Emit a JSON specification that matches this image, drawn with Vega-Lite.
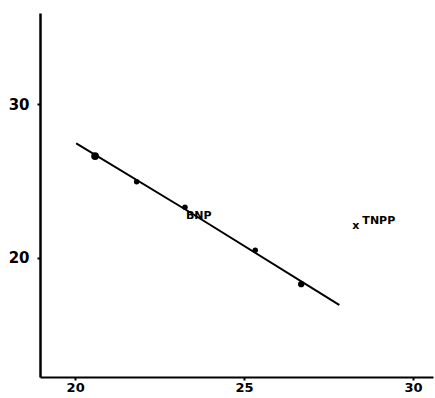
{
  "$schema": "https://vega.github.io/schema/vega-lite/v6.json",
  "autosize": "none",
  "width": 393,
  "height": 364,
  "padding": {"left": 40, "top": 13, "right": 2, "bottom": 21},
  "background": "white",
  "config": {"view": {"stroke": null}},
  "datasets": {
    "fit": [
      {"x": 20.03, "y": 27.45},
      {"x": 23.3, "y": 23.1},
      {"x": 27.82, "y": 16.95}
    ],
    "pts": [
      {"x": 20.59, "y": 26.62, "s": 60},
      {"x": 21.82, "y": 24.95, "s": 30},
      {"x": 23.25, "y": 23.3, "s": 30},
      {"x": 25.33, "y": 20.5, "s": 30},
      {"x": 26.69, "y": 18.3, "s": 40}
    ],
    "labels": [
      {"x": 23.28, "y": 22.55, "t": "BNP", "sz": 11},
      {"x": 28.2, "y": 21.85, "t": "x", "sz": 11},
      {"x": 28.5, "y": 22.2, "t": "TNPP", "sz": 11}
    ]
  },
  "layer": [
    {
      "data": {"name": "fit"},
      "mark": {"type": "line", "color": "black", "strokeWidth": 2, "interpolate": "monotone"},
      "encoding": {
        "x": {"field": "x", "type": "quantitative",
          "scale": {"domain": [18.96, 30.59], "nice": false, "zero": false},
          "axis": {"values": [20, 25, 30], "title": null, "grid": false, "domainColor": "black", "domainWidth": 2, "tickColor": "black", "tickSize": 3, "tickWidth": 2, "labelColor": "black", "labelFont": "DejaVu Sans", "labelFontWeight": "bold", "labelFontSize": 13, "labelPadding": 1}},
        "y": {"field": "y", "type": "quantitative",
          "scale": {"domain": [12.27, 35.91], "nice": false, "zero": false},
          "axis": {"values": [20, 30], "title": null, "grid": false, "domainColor": "black", "domainWidth": 2.5, "tickColor": "black", "tickSize": 3, "tickWidth": 2, "labelColor": "black", "labelFont": "DejaVu Sans", "labelFontWeight": "bold", "labelFontSize": 15, "labelPadding": 8}}
      }
    },
    {
      "data": {"name": "pts"},
      "mark": {"type": "point", "filled": true, "color": "black", "opacity": 1},
      "encoding": {
        "x": {"field": "x", "type": "quantitative"},
        "y": {"field": "y", "type": "quantitative"},
        "size": {"field": "s", "type": "quantitative", "scale": null, "legend": null}
      }
    },
    {
      "data": {"name": "labels"},
      "mark": {"type": "text", "align": "left", "baseline": "alphabetic", "font": "DejaVu Sans", "fontWeight": "bold", "color": "black"},
      "encoding": {
        "x": {"field": "x", "type": "quantitative"},
        "y": {"field": "y", "type": "quantitative"},
        "text": {"field": "t"},
        "size": {"field": "sz", "type": "quantitative", "scale": null, "legend": null}
      }
    }
  ]
}
